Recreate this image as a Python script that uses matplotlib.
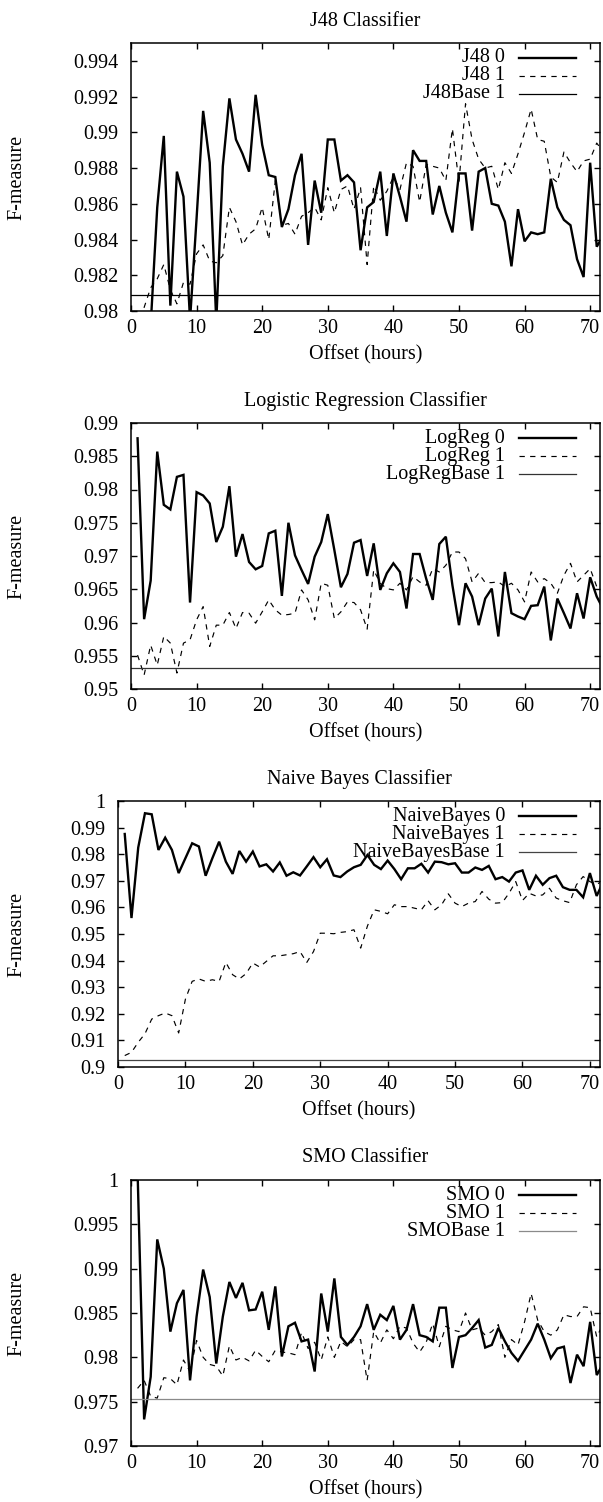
import numpy as np
import matplotlib
matplotlib.use("Agg")
import matplotlib.pyplot as plt
from matplotlib.lines import Line2D
from matplotlib.ticker import FixedLocator, FuncFormatter

plt.rcParams["font.family"] = ["Liberation Serif", "DejaVu Serif"]
plt.rcParams["font.size"] = 14.5

# Offset in hours (x axis, shared by every panel)
hours = np.arange(1, 73)

# J48
j48_0 = [0.9790, 0.9785, 0.9792, 0.9858, 0.9898, 0.9803, 0.9878, 0.9864, 0.9795, 0.9852,
         0.9912, 0.9883, 0.9794, 0.9881, 0.9919, 0.9896, 0.9888, 0.9878, 0.9921, 0.9893,
         0.9876, 0.9875, 0.9847, 0.9857, 0.9876, 0.9888, 0.9837, 0.9873, 0.9855, 0.9896,
         0.9896, 0.9873, 0.9876, 0.9872, 0.9834, 0.9858, 0.9861, 0.9878, 0.9842, 0.9877,
         0.9864, 0.9850, 0.9890, 0.9884, 0.9884, 0.9854, 0.9870, 0.9855, 0.9844, 0.9877,
         0.9877, 0.9845, 0.9878, 0.9880, 0.9860, 0.9859, 0.9850, 0.9825, 0.9857, 0.9839,
         0.9844, 0.9843, 0.9844, 0.9874, 0.9858, 0.9851, 0.9848, 0.9829, 0.9819, 0.9883,
         0.9836, 0.9842]
j48_1 = [0.9797, 0.9802, 0.9813, 0.9818, 0.9826, 0.9812, 0.9804, 0.9816, 0.9815, 0.9832,
         0.9837, 0.9828, 0.9827, 0.9831, 0.9858, 0.9850, 0.9837, 0.9843, 0.9846, 0.9858,
         0.9840, 0.9873, 0.9848, 0.9849, 0.9843, 0.9853, 0.9855, 0.9858, 0.9851, 0.9869,
         0.9855, 0.9868, 0.9870, 0.9857, 0.9869, 0.9826, 0.9870, 0.9862, 0.9867, 0.9875,
         0.9868, 0.9883, 0.9881, 0.9861, 0.9882, 0.9881, 0.9880, 0.9873, 0.9902, 0.9872,
         0.9916, 0.9896, 0.9885, 0.9880, 0.9881, 0.9868, 0.9883, 0.9877, 0.9888, 0.9900,
         0.9913, 0.9896, 0.9895, 0.9875, 0.9872, 0.9889, 0.9883, 0.9878, 0.9884, 0.9885,
         0.9894, 0.9889]
j48_base = 0.9809

# Logistic regression
logreg_0 = [0.9877, 0.9605, 0.9663, 0.9857, 0.9777, 0.9770, 0.9819, 0.9822, 0.9630, 0.9796,
            0.9791, 0.9779, 0.9721, 0.9744, 0.9805, 0.9699, 0.9733, 0.9691, 0.9680, 0.9685,
            0.9734, 0.9738, 0.9640, 0.9750, 0.9701, 0.9679, 0.9658, 0.9699, 0.9721, 0.9763,
            0.9709, 0.9653, 0.9673, 0.9720, 0.9724, 0.9670, 0.9719, 0.9649, 0.9674, 0.9689,
            0.9676, 0.9621, 0.9703, 0.9703, 0.9666, 0.9634, 0.9718, 0.9729, 0.9656, 0.9596,
            0.9659, 0.9639, 0.9596, 0.9636, 0.9651, 0.9579, 0.9676, 0.9614, 0.9609, 0.9605,
            0.9625, 0.9626, 0.9654, 0.9573, 0.9636, 0.9614, 0.9591, 0.9644, 0.9606, 0.9668,
            0.9639, 0.9620]
logreg_1 = [0.9551, 0.9521, 0.9566, 0.9536, 0.9579, 0.9569, 0.9524, 0.9569, 0.9574, 0.9604,
            0.9624, 0.9564, 0.9596, 0.9596, 0.9615, 0.9591, 0.9615, 0.9614, 0.9599, 0.9616,
            0.9634, 0.9619, 0.9611, 0.9612, 0.9614, 0.9649, 0.9634, 0.9604, 0.9659, 0.9656,
            0.9606, 0.9616, 0.9631, 0.9630, 0.9619, 0.9590, 0.9679, 0.9659, 0.9651, 0.9649,
            0.9659, 0.9649, 0.9669, 0.9661, 0.9656, 0.9681, 0.9676, 0.9686, 0.9706, 0.9706,
            0.9696, 0.9661, 0.9674, 0.9660, 0.9660, 0.9661, 0.9654, 0.9659, 0.9649, 0.9631,
            0.9676, 0.9661, 0.9666, 0.9659, 0.9644, 0.9671, 0.9689, 0.9661, 0.9671, 0.9681,
            0.9654, 0.9648]
logreg_base = 0.9532

# Naive Bayes
nb_0 = [0.9876, 0.9560, 0.9825, 0.9954, 0.9950, 0.9816, 0.9862, 0.9816, 0.9729, 0.9785,
        0.9841, 0.9829, 0.9719, 0.9785, 0.9847, 0.9772, 0.9726, 0.9812, 0.9772, 0.9810,
        0.9754, 0.9762, 0.9735, 0.9769, 0.9719, 0.9732, 0.9720, 0.9754, 0.9789, 0.9751,
        0.9781, 0.9720, 0.9714, 0.9735, 0.9751, 0.9760, 0.9797, 0.9760, 0.9744, 0.9776,
        0.9744, 0.9706, 0.9747, 0.9747, 0.9764, 0.9731, 0.9772, 0.9770, 0.9762, 0.9766,
        0.9731, 0.9731, 0.9750, 0.9741, 0.9756, 0.9706, 0.9714, 0.9697, 0.9731, 0.9739,
        0.9666, 0.9719, 0.9685, 0.9710, 0.9719, 0.9676, 0.9666, 0.9666, 0.9638, 0.9729,
        0.9643, 0.9697]
nb_1 = [0.9043, 0.9055, 0.9093, 0.9125, 0.9180, 0.9193, 0.9203, 0.9193, 0.9128, 0.9255,
        0.9322, 0.9331, 0.9322, 0.9328, 0.9322, 0.9393, 0.9347, 0.9331, 0.9351, 0.9391,
        0.9376, 0.9397, 0.9418, 0.9418, 0.9422, 0.9426, 0.9434, 0.9393, 0.9434, 0.9503,
        0.9503, 0.9501, 0.9506, 0.9509, 0.9516, 0.9447, 0.9530, 0.9591, 0.9585, 0.9576,
        0.9610, 0.9603, 0.9603, 0.9597, 0.9591, 0.9625, 0.9591, 0.9610, 0.9651, 0.9616,
        0.9603, 0.9616, 0.9622, 0.9660, 0.9631, 0.9616, 0.9618, 0.9653, 0.9697, 0.9626,
        0.9653, 0.9643, 0.9647, 0.9672, 0.9635, 0.9625, 0.9618, 0.9685, 0.9716, 0.9697,
        0.9685, 0.9704]
nb_base = 0.9025

# SMO
smo_0 = [1.0010, 0.9730, 0.9778, 0.9933, 0.9900, 0.9829, 0.9861, 0.9876, 0.9774, 0.9846,
         0.9899, 0.9868, 0.9793, 0.9846, 0.9885, 0.9867, 0.9884, 0.9853, 0.9854, 0.9874,
         0.9831, 0.9880, 0.9801, 0.9835, 0.9839, 0.9818, 0.9820, 0.9784, 0.9872, 0.9829,
         0.9889, 0.9823, 0.9814, 0.9823, 0.9835, 0.9860, 0.9831, 0.9848, 0.9842, 0.9858,
         0.9820, 0.9831, 0.9860, 0.9825, 0.9823, 0.9818, 0.9856, 0.9856, 0.9788, 0.9823,
         0.9825, 0.9833, 0.9842, 0.9811, 0.9814, 0.9833, 0.9818, 0.9805, 0.9796, 0.9808,
         0.9820, 0.9838, 0.9820, 0.9799, 0.9810, 0.9812, 0.9771, 0.9803, 0.9790, 0.9840,
         0.9780, 0.9793]
smo_1 = [0.9765, 0.9774, 0.9756, 0.9754, 0.9777, 0.9776, 0.9769, 0.9797, 0.9784, 0.9819,
         0.9800, 0.9792, 0.9790, 0.9779, 0.9813, 0.9797, 0.9800, 0.9796, 0.9808, 0.9801,
         0.9795, 0.9808, 0.9806, 0.9805, 0.9803, 0.9828, 0.9810, 0.9817, 0.9797, 0.9823,
         0.9800, 0.9818, 0.9812, 0.9820, 0.9820, 0.9774, 0.9829, 0.9816, 0.9831, 0.9821,
         0.9835, 0.9833, 0.9816, 0.9806, 0.9817, 0.9838, 0.9812, 0.9835, 0.9831, 0.9829,
         0.9850, 0.9831, 0.9833, 0.9825, 0.9829, 0.9837, 0.9800, 0.9820, 0.9814, 0.9840,
         0.9872, 0.9842, 0.9829, 0.9825, 0.9831, 0.9848, 0.9846, 0.9846, 0.9857, 0.9856,
         0.9823, 0.9838]
smo_base = 0.9753

W, H = 603, 1502
fig = plt.figure(figsize=(W / 100, H / 100), dpi=100)

# (title, series, base, legend names, ylim, yticks, base colour, axes box in px)
panels = [
    ("J48 Classifier", j48_0, j48_1, j48_base, "J48",
     (0.98, 0.995), np.arange(0.98, 0.9945, 0.002), "black", (131, 43, 311)),
    ("Logistic Regression Classifier", logreg_0, logreg_1, logreg_base, "LogReg",
     (0.95, 0.99), np.arange(0.95, 0.9905, 0.005), "#333333", (131, 423, 689)),
    ("Naive Bayes Classifier", nb_0, nb_1, nb_base, "NaiveBayes",
     (0.9, 1.0), np.arange(0.9, 1.0005, 0.01), "#444444", (118, 801, 1067)),
    ("SMO Classifier", smo_0, smo_1, smo_base, "SMO",
     (0.97, 1.0), np.arange(0.97, 1.0005, 0.005), "#8a8a8a", (131, 1180, 1446)),
]

dash = (4.5, 4.5)
fmt = FuncFormatter(lambda v, p: f"{v:g}")

for title, s0, s1, base, name, ylim, yt, base_col, (left, top, bottom) in panels:
    ax = fig.add_axes([left / W, 1 - bottom / H, (600 - left) / W, (bottom - top) / H])
    ax.plot(hours, s0, color="black", lw=1.7, solid_joinstyle="miter")
    ax.plot(hours, s1, color="black", lw=0.85, linestyle=(0, dash))
    ax.axhline(base, color=base_col, lw=0.9)

    ax.set_xlim(0, 71.5)
    ax.set_ylim(*ylim)
    ax.xaxis.set_major_locator(FixedLocator(np.arange(0, 71, 10)))
    ax.yaxis.set_major_locator(FixedLocator(np.round(yt, 4)))
    ax.yaxis.set_major_formatter(fmt)
    ax.tick_params(direction="in", length=4, width=1, top=True, right=True)
    ax.tick_params(axis="y", pad=9)
    ax.tick_params(axis="x", pad=6)
    for sp in ax.spines.values():
        sp.set_linewidth(1.1)

    xc = (left + 600) / 2 / W
    fig.text(xc, 1 - (top - 22) / H, title, ha="center", va="center")
    fig.text(xc, 1 - (bottom + 44) / H, "Offset (hours)", ha="center", va="center")
    fig.text(17 / W, 1 - (top + bottom) / 2 / H, "F-measure", rotation=90,
             ha="center", va="center")

    # gnuplot-like key: right aligned text with sample to its right
    keys = [(f"{name} 0", dict(color="black", lw=1.7)),
            (f"{name} 1", dict(color="black", lw=0.85, linestyle=(0, dash))),
            (f"{name}Base 1", dict(color=base_col, lw=0.9))]
    for i, (lab, st) in enumerate(keys):
        y = 1 - (top + 15 + 18 * i) / H
        fig.text(505 / W, y, lab, ha="right", va="center")
        fig.add_artist(Line2D([519 / W, 576 / W], [y, y], **st))

fig.savefig("out.png", dpi=100)
